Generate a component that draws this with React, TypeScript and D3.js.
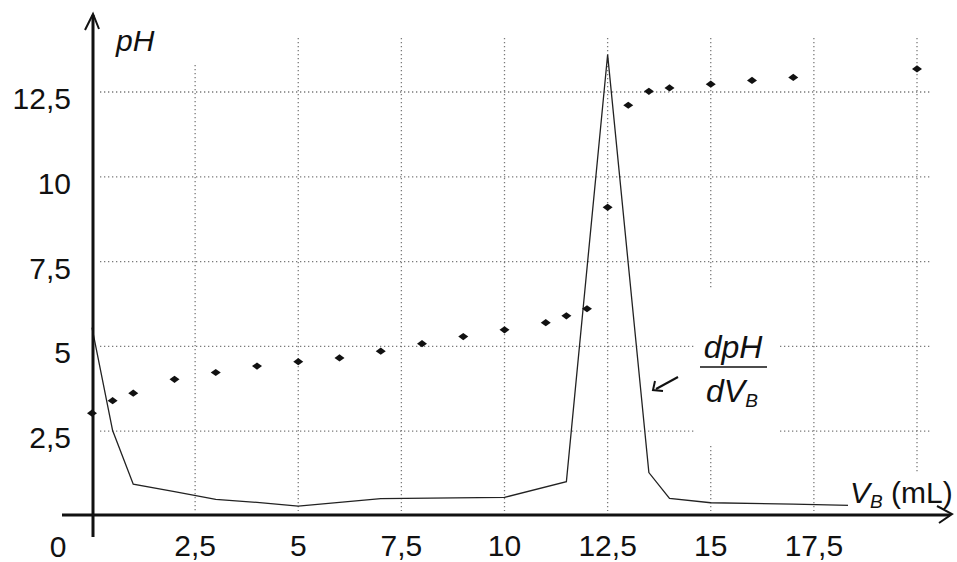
import React from "react";
import * as d3 from "d3";

// pH measurements (scatter)
const volumePH = [0, 0.5, 1, 2, 3, 4, 5, 6, 7, 8, 9, 10, 11, 11.5, 12, 12.5, 13, 13.5, 14, 15, 16, 17, 20];
const phValues = [3.03, 3.4, 3.62, 4.03, 4.23, 4.42, 4.55, 4.66, 4.86, 5.08, 5.29, 5.49, 5.7, 5.9, 6.11, 9.1, 12.11, 12.52, 12.62, 12.73, 12.84, 12.93, 13.18];

// derivative dpH/dVB (line)
const volumeDeriv = [0, 0.5, 1, 2, 3, 4, 5, 7, 10, 11.5, 12.5, 13.5, 14, 15, 17, 20];
const derivValues = [5.55, 2.52, 0.94, 0.72, 0.49, 0.4, 0.29, 0.51, 0.55, 1.01, 13.6, 1.28, 0.52, 0.39, 0.35, 0.27];

const xTicks = [2.5, 5, 7.5, 10, 12.5, 15, 17.5];
const xGrid = [2.5, 5, 7.5, 10, 12.5, 15, 17.5, 20];
const yTicks = [2.5, 5, 7.5, 10, 12.5];

const fmt = (v: number) => String(v).replace(".", ",");

export default function App() {
  const W = 957;
  const H = 562;
  const x = d3.scaleLinear().domain([0, 20]).range([92, 917]);
  const y = d3.scaleLinear().domain([0, 12.5]).range([516, 92]);

  const line = d3
    .line<number>()
    .x((_, i) => x(volumeDeriv[i]))
    .y((d) => y(d));

  const font = "'Liberation Sans', Arial, sans-serif";
  const grid = { stroke: "#7a7a7a", strokeWidth: 1.3, strokeDasharray: "1.3 2.7", fill: "none" } as const;

  return (
    <svg width={W} height={H} style={{ position: "absolute", left: 0, top: 0, background: "#fff" }} fontFamily={font}>
      <rect x={0} y={0} width={W} height={H} fill="#fff" />
      {/* grid */}
      {yTicks.map((t) => (
        <line key={"h" + t} x1={100} x2={932} y1={y(t)} y2={y(t)} {...grid} />
      ))}
      {xGrid.map((t) => (
        <line key={"v" + t} x1={x(t)} x2={x(t)} y1={t === 2.5 ? 65 : 38} y2={511} {...grid} />
      ))}

      {/* derivative curve */}
      <path d={line(derivValues) || ""} fill="none" stroke="#222" strokeWidth={1.3} strokeLinejoin="miter" />

      {/* label backgrounds */}
      <rect x={695} y={290} width={83} height={155} fill="#fff" />
      <rect x={848} y={472} width={107} height={40} fill="#fff" />

      {/* pH points */}
      {volumePH.map((v, i) => {
        const cx = x(v);
        const cy = y(phValues[i]);
        return (
          <path
            key={"p" + i}
            d={`M${cx - 5},${cy} L${cx},${cy - 3.6} L${cx + 5},${cy} L${cx},${cy + 3.6} Z`}
            fill="#111"
          />
        );
      })}

      {/* axes */}
      <line x1={93} x2={93} y1={15} y2={537} stroke="#111" strokeWidth={3} />
      <path d="M85,30 L93,14 L99,29" fill="none" stroke="#111" strokeWidth={2} />
      <line x1={62} x2={950} y1={515} y2={515} stroke="#111" strokeWidth={3} />
      <path d="M937,506 L952,514 L939,523" fill="none" stroke="#111" strokeWidth={2} />

      {/* y tick labels */}
      {yTicks.map((t) => (
        <text key={"yl" + t} x={71} y={y(t) + 17} textAnchor="end" fontSize={30} fill="#111">
          {fmt(t)}
        </text>
      ))}
      <text x={58} y={557} textAnchor="middle" fontSize={30} fill="#111">0</text>
      {xTicks.map((t) => (
        <text key={"xl" + t} x={x(t)} y={556} textAnchor="middle" fontSize={30} fill="#111">
          {fmt(t)}
        </text>
      ))}

      {/* axis titles */}
      <text x={116} y={51} fontSize={30} fontStyle="italic" fill="#111">pH</text>
      <text x={850} y={503} fontSize={30} fill="#111">
        <tspan fontStyle="italic">V</tspan>
        <tspan fontStyle="italic" fontSize={19} dy={5}>B</tspan>
        <tspan dy={-5}> (mL)</tspan>
      </text>

      {/* dpH/dVB annotation */}
      <text x={733} y={358} textAnchor="middle" fontSize={32} fontStyle="italic" fill="#111">dpH</text>
      <line x1={700} x2={767} y1={367} y2={367} stroke="#111" strokeWidth={1.6} />
      <text x={706} y={402} fontSize={32} fontStyle="italic" fill="#111">
        dV<tspan fontSize={19} dy={5}>B</tspan>
      </text>
      <line x1={678} x2={656} y1={377} y2={389} stroke="#111" strokeWidth={2} />
      <path d="M655,381 L653,390 L663,391" fill="none" stroke="#111" strokeWidth={2} />
    </svg>
  );
}
